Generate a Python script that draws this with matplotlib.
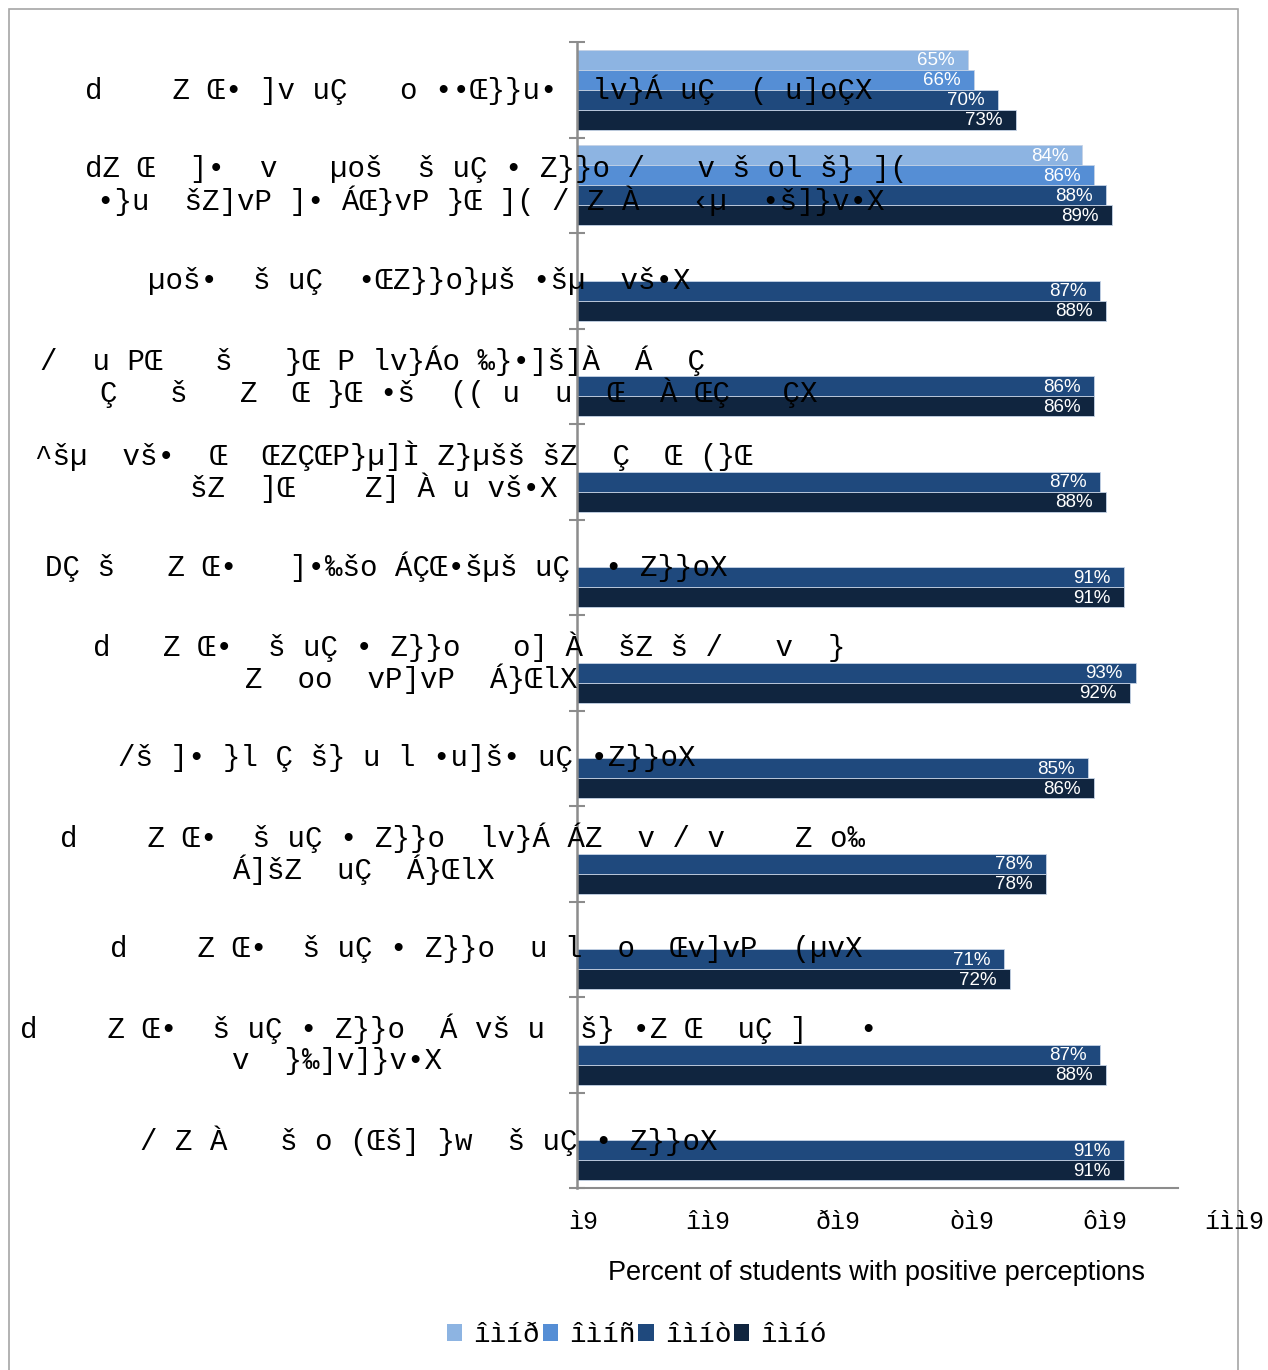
import matplotlib
matplotlib.use("Agg")
import matplotlib.pyplot as plt
import matplotlib.transforms as mtransforms
from matplotlib.patches import Patch, Rectangle
import numpy as np

# ---------------- data ----------------
categories = [
    ["d    Z Œ• ]v uÇ   o ••Œ}}u•  lv}Á uÇ  ( u]oÇX"],
    ["dZ Œ  ]•  v   µoš  š uÇ • Z}}o /   v š ol š} ](",
     "•}u  šZ]vP ]• ÁŒ}vP }Œ ]( / Z À   ‹µ  •š]}v•X"],
    ["µoš•  š uÇ  •ŒZ}}o}µš •šµ  vš•X"],
    ["/  u PŒ   š   }Œ P lv}Áo ‰}•]š]À  Á  Ç",
     "Ç   š   Z  Œ }Œ •š  (( u  u  Œ  À ŒÇ   ÇX"],
    ["^šµ  vš•  Œ  ŒZÇŒP}µ]Ì Z}µšš šZ  Ç  Œ (}Œ",
     "šZ  ]Œ    Z] À u vš•X"],
    ["DÇ š   Z Œ•   ]•‰šo ÁÇŒ•šµš uÇ  • Z}}oX"],
    ["d   Z Œ•  š uÇ • Z}}o   o] À  šZ š /   v  }",
     "Z  oo  vP]vP  Á}ŒlX"],
    ["/š ]• }l Ç š} u l •u]š• uÇ •Z}}oX"],
    ["d    Z Œ•  š uÇ • Z}}o  lv}Á ÁZ  v / v    Z o‰",
     "Á]šZ  uÇ  Á}ŒlX"],
    ["d    Z Œ•  š uÇ • Z}}o  u l  o  Œv]vP  (µvX"],
    ["d    Z Œ•  š uÇ • Z}}o  Á vš u  š} •Z Œ  uÇ ]   •",
     "v  }‰]v]}v•X"],
    ["/ Z À   š o (Œš] }w  š uÇ • Z}}oX"],
]

series_names = ["îìíð", "îìíñ", "îìíò", "îìíó"]
values_2014 = [65, 84, None, None, None, None, None, None, None, None, None, None]
values_2015 = [66, 86, None, None, None, None, None, None, None, None, None, None]
values_2016 = [70, 88, 87, 86, 87, 91, 93, 85, 78, 71, 87, 91]
values_2017 = [73, 89, 88, 86, 88, 91, 92, 86, 78, 72, 88, 91]

x_ticks = [0, 20, 40, 60, 80, 100]
x_tick_labels = ["ì9", "îì9", "ðì9", "òì9", "ôì9", "íìì9"]
x_title = "Percent of students with positive perceptions"

# ---------------- layout / style ----------------
W, H = 1268, 1370
colors = ["#8DB4E2", "#558ED5", "#1F497D", "#10253F"]
label_starts_px = [[85], [85, 97], [148], [40, 100], [35, 190], [45],
                   [93, 245], [118], [60, 232], [110], [20, 232], [140]]
tick_label_px = [583, 708, 838, 972, 1105, 1234]
MONO = "Liberation Mono"
SANS = "Liberation Sans"
GRAY = "#8c8c8c"

fig = plt.figure(figsize=(W / 100, H / 100), dpi=100)
fig.patch.set_facecolor("white")
ax = fig.add_axes([577 / W, 1 - 1188 / H, (1178 - 577) / W, (1188 - 42) / H])

n = len(values_2016)
ypos = np.arange(n)
bar_h = 0.2094
offsets = [-1.5, -0.5, 0.5, 1.5]
all_series = [values_2014, values_2015, values_2016, values_2017]

for k, vals in enumerate(all_series):
    idx = [i for i, v in enumerate(vals) if v is not None]
    vv = [vals[i] for i in idx]
    bars = ax.barh(ypos[idx] + offsets[k] * bar_h, vv, height=bar_h,
                   color=colors[k], edgecolor="#c5d3e6", linewidth=0.6, zorder=2)
    for rect, v in zip(bars, vv):
        ax.annotate(f"{v}%", xy=(v, rect.get_y() + rect.get_height() / 2),
                    xytext=(-13, -1), textcoords="offset pixels",
                    ha="right", va="center", color="white",
                    fontsize=13.5, family=SANS, zorder=3)

ax.set_xlim(0, 100)
ax.set_ylim(n - 0.5, -0.5)
ax.set_yticks(np.arange(-0.5, n, 1.0))
ax.set_yticklabels([])
ax.set_xticks([])
ax.tick_params(axis="y", direction="inout", length=11.5, width=1.5, color=GRAY)
for s in ["top", "right"]:
    ax.spines[s].set_visible(False)
ax.spines["left"].set_color(GRAY)
ax.spines["left"].set_linewidth(1.8)
ax.spines["bottom"].set_color(GRAY)
ax.spines["bottom"].set_linewidth(1.5)
ax.set_facecolor("none")

# category labels (garbled glyphs as in the reference)
trans_lbl = mtransforms.blended_transform_factory(fig.transFigure, ax.transData)
line_gap = 32 / ((1188 - 42) / n)
for i, (lines, starts) in enumerate(zip(categories, label_starts_px)):
    m = len(lines)
    for j, (txt, sx) in enumerate(zip(lines, starts)):
        yy = i + (j - (m - 1) / 2) * line_gap
        fig.text(sx / W, yy, txt, transform=trans_lbl, ha="left", va="center",
                 fontsize=21, family=MONO, color="black", zorder=5)

# x tick labels (placed where the reference shows them)
for px, lab in zip(tick_label_px, x_tick_labels):
    fig.text(px / W, 1 - 1222 / H, lab, ha="center", va="center",
             fontsize=18, family=MONO)

fig.text(876 / W, 1 - 1273 / H, x_title, ha="center", va="center",
         fontsize=19.5, family=SANS, color="black")

handles = [Patch(facecolor=c, edgecolor="none") for c in colors]
fig.legend(handles, series_names, loc="center", bbox_to_anchor=(637 / W, 1 - 1335 / H),
           ncol=4, frameon=False, prop={"family": MONO, "size": 20},
           handlelength=0.55, handleheight=0.55, handletextpad=0.4,
           columnspacing=0.1, borderpad=0, borderaxespad=0)

# outer frame
fig.patches.append(Rectangle((8.5 / W, -0.05), (1237.5 - 8.5) / W, 1.05 - 8.5 / H,
                             transform=fig.transFigure, fill=False,
                             edgecolor="#a6a6a6", linewidth=1.2, zorder=0))

fig.savefig("out.png", dpi=100, facecolor="white")
